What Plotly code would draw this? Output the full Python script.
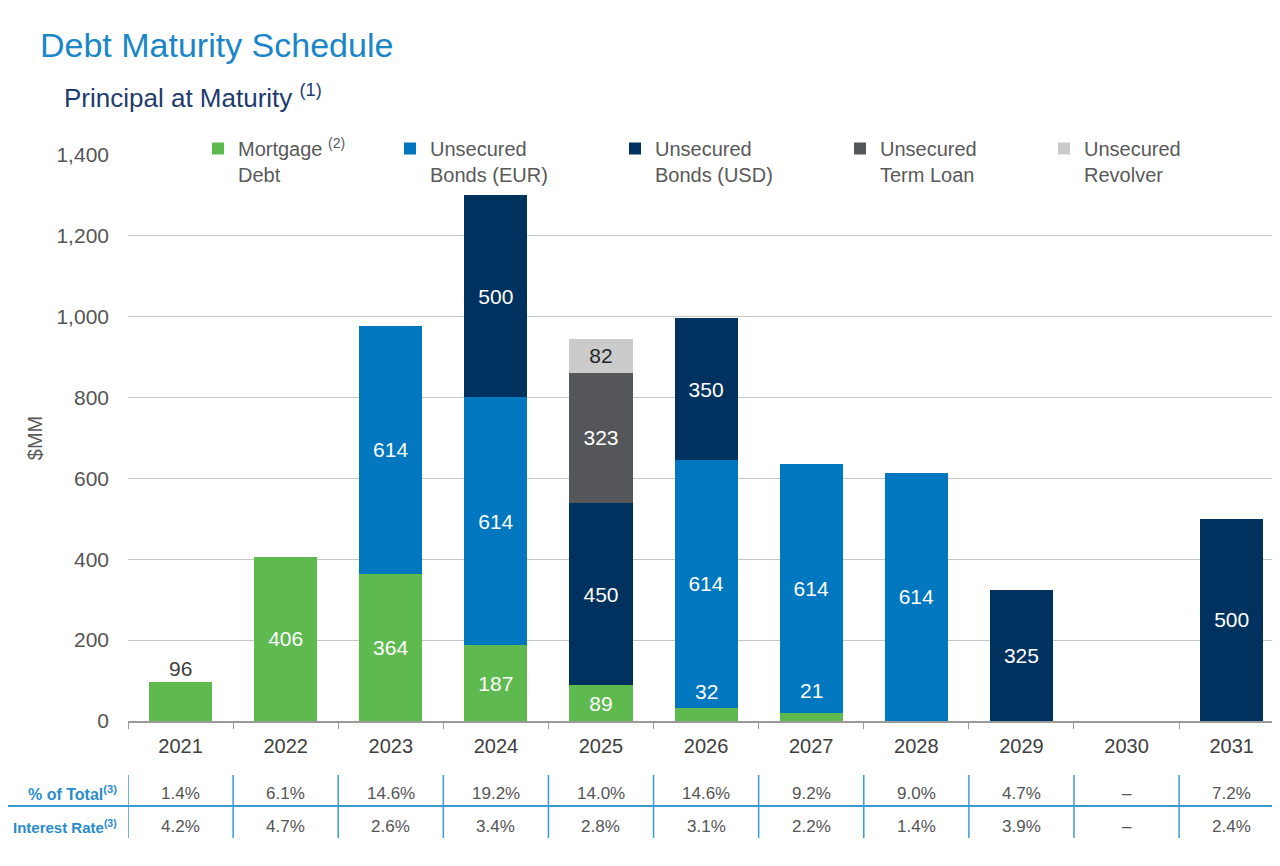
import plotly.graph_objects as go

years = ["2021", "2022", "2023", "2024", "2025", "2026", "2027", "2028", "2029", "2030", "2031"]
mortgage = [96, 406, 364, 187, 89, 32, 21, None, None, None, None]
bonds_eur = [None, None, 614, 614, None, 614, 614, 614, None, None, None]
bonds_usd = [None, None, None, 500, 450, 350, None, None, 325, None, 500]
term_loan = [None, None, None, None, 323, None, None, None, None, None, None]
revolver = [None, None, None, None, 82, None, None, None, None, None, None]
pct_total = ["1.4%", "6.1%", "14.6%", "19.2%", "14.0%", "14.6%", "9.2%", "9.0%", "4.7%", "–", "7.2%"]
interest_rate = ["4.2%", "4.7%", "2.6%", "3.4%", "2.8%", "3.1%", "2.2%", "1.4%", "3.9%", "–", "2.4%"]
# mortgage labels drawn above their small segments instead of inside
mortgage_above = ["2021", "2026", "2027"]

series = [
    ("Mortgage <sup>(2)</sup><br>Debt", mortgage, "#5eb94f", "white", "legend"),
    ("Unsecured<br>Bonds (EUR)", bonds_eur, "#0077be", "white", "legend2"),
    ("Unsecured<br>Bonds (USD)", bonds_usd, "#00325f", "white", "legend3"),
    ("Unsecured<br>Term Loan", term_loan, "#55565a", "white", "legend4"),
    ("Unsecured<br>Revolver", revolver, "#cbcbcb", "#262626", "legend5"),
]

FONT = "Liberation Sans, Arial, Helvetica, sans-serif"
OFF = 8  # page body margin
W, H = 1280 - OFF, 866 - OFF
ML, MR, MT, MB = 128 - OFF, 0, 155 - OFF, 145
PW = W - ML - MR
PH = H - MT - MB


def px_to_paper_x(rx):
    return (rx - OFF - ML) / PW


def py_to_paper_y(ry):
    return (H - MB - (ry - OFF)) / PH


fig = go.Figure()
for i, (name, vals, color, tcolor, leg) in enumerate(series):
    labels = []
    for y, v in zip(years, vals):
        if v is None or (i == 0 and y in mortgage_above):
            labels.append("")
        else:
            labels.append(str(v))
    fig.add_trace(go.Bar(
        x=years, y=vals, name=name, marker_color=color, marker_line_width=0,
        text=labels, textposition="inside", insidetextanchor="middle",
        textangle=0, constraintext="none",
        textfont=dict(family=FONT, size=21, color=tcolor),
        width=0.6, legend=leg, showlegend=True, hoverinfo="x+y+name",
    ))

annotations = []
# labels for small mortgage segments
label_shift = {"2021": 0, "2026": 3, "2027": 9}
for k, (y, v) in enumerate(zip(years, mortgage)):
    if y in mortgage_above and v is not None:
        col = "#404040" if y == "2021" else "white"
        annotations.append(dict(x=k, y=v, xref="x", yref="y", text=str(v), showarrow=False,
                                yanchor="bottom", yshift=label_shift[y],
                                font=dict(family=FONT, size=21, color=col)))

# table
row1_y = py_to_paper_y(793)
row2_y = py_to_paper_y(826)
for k, (p, r) in enumerate(zip(pct_total, interest_rate)):
    annotations.append(dict(x=k, y=row1_y, xref="x", yref="paper", text=p, showarrow=False,
                            yanchor="middle", font=dict(family=FONT, size=17, color="#555555")))
    annotations.append(dict(x=k, y=row2_y, xref="x", yref="paper", text=r, showarrow=False,
                            yanchor="middle", font=dict(family=FONT, size=17, color="#555555")))
annotations.append(dict(x=px_to_paper_x(119), y=row1_y, xref="paper", yref="paper",
                        text="<b>% of Total<sup>(3)</sup></b>", showarrow=False,
                        xanchor="right", yanchor="middle",
                        font=dict(family=FONT, size=16, color="#2a8ccb")))
annotations.append(dict(x=px_to_paper_x(119), y=row2_y, xref="paper", yref="paper",
                        text="<b>Interest Rate<sup>(3)</sup></b>", showarrow=False,
                        xanchor="right", yanchor="middle",
                        font=dict(family=FONT, size=15, color="#2a8ccb")))

# subtitle
annotations.append(dict(x=px_to_paper_x(62), y=py_to_paper_y(97), xref="paper", yref="paper",
                        text="Principal at Maturity <sup>(1)</sup>", showarrow=False,
                        xanchor="left", yanchor="middle",
                        font=dict(family=FONT, size=26, color="#1d3c6e")))

shapes = [dict(type="line", xref="paper", yref="paper", x0=px_to_paper_x(0), x1=1,
               y0=py_to_paper_y(806), y1=py_to_paper_y(806),
               line=dict(color="#3d9ad6", width=2))]
for k in range(len(years)):
    shapes.append(dict(type="line", xref="x", yref="paper", x0=k - 0.5, x1=k - 0.5,
                       y0=py_to_paper_y(775), y1=py_to_paper_y(838),
                       line=dict(color="#3d9ad6", width=1.5)))

legend_text_x = [238, 430, 655, 880, 1084]
legends = {}
for idx, tx in enumerate(legend_text_x):
    key = "legend" if idx == 0 else f"legend{idx + 1}"
    legends[key] = dict(
        x=px_to_paper_x(tx - 40), xanchor="left", y=py_to_paper_y(129), yanchor="top",
        orientation="v", valign="top", bgcolor="rgba(0,0,0,0)",
        font=dict(family=FONT, size=20, color="#595959"),
        itemclick=False, itemdoubleclick=False,
    )

fig.update_layout(
    width=W, height=H,
    margin=dict(l=ML, r=MR, t=MT, b=MB, autoexpand=False),
    paper_bgcolor="white", plot_bgcolor="white",
    barmode="stack", showlegend=True,
    font=dict(family=FONT, color="#404040"),
    title=dict(text="Debt Maturity Schedule", xref="container", yref="container",
               x=(40 - OFF) / W, xanchor="left", y=1 - (45 - OFF) / H, yanchor="middle",
               font=dict(family=FONT, size=34, color="#1a86c8")),
    xaxis=dict(type="category", range=[-0.5, 10.46], showgrid=False,
               showline=True, linecolor="#9a9a9a", linewidth=1.5,
               ticks="outside", tickson="boundaries", ticklen=6, tickcolor="#9a9a9a",
               ticklabelstandoff=6,
               tickfont=dict(family=FONT, size=20, color="#404040"), fixedrange=True),
    yaxis=dict(range=[0, 1400], dtick=200, tickformat=",", showgrid=True,
               gridcolor="#c6c6c6", gridwidth=1, zeroline=False, showline=False,
               ticklabelstandoff=18,
               tickfont=dict(family=FONT, size=21, color="#555555"),
               title=dict(text="$MM", standoff=8, font=dict(family=FONT, size=20, color="#595959")),
               fixedrange=True),
    annotations=annotations,
    shapes=shapes,
    **legends,
)

fig.write_html("out.html")
